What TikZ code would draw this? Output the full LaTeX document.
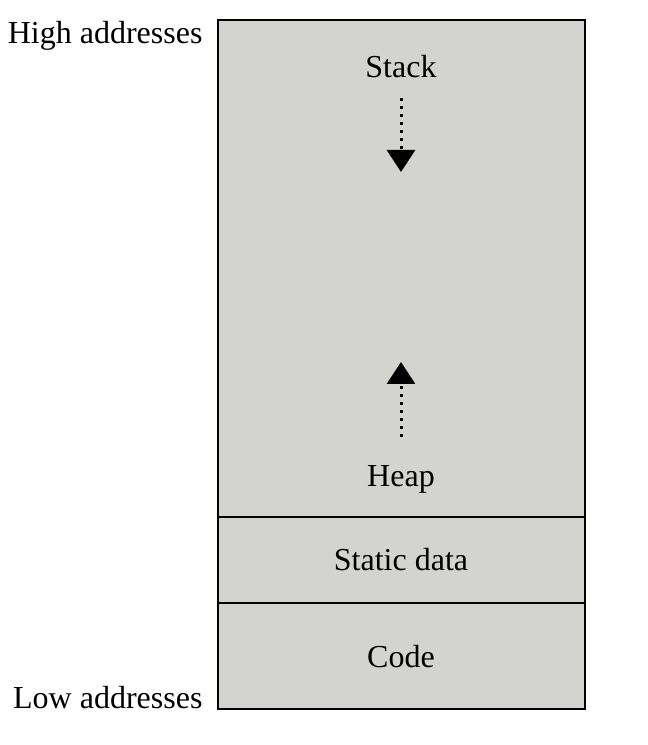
\documentclass[tikz,border=0pt]{standalone}
\usepackage{fontspec}
\setmainfont{Liberation Serif}
\usetikzlibrary{arrows.meta,positioning}
\definecolor{memgray}{HTML}{D3D3CF}
\tikzset{
  region/.style={draw, fill=memgray, line width=2pt, minimum width=367pt,
    outer sep=0pt, inner sep=0pt},
  growth/.style={line width=3pt, dash pattern=on 3pt off 5pt,
    -{Triangle[width=28pt,length=22pt]}},
}
\begin{document}
\begin{tikzpicture}[x=1pt,y=1pt,font=\fontsize{32}{37}\selectfont]
      \useasboundingbox (0,0) rectangle (648,745);
      \node[region, minimum height=106pt, anchor=south west] (code) at (218,36) {};
      \node[region, minimum height=86pt, above=0pt of code] (static) {};
      \node[region, minimum height=497pt, above=0pt of static] (dyn) {};
      \draw
        (401,88) node (codelbl){Code}
        (401,185) node (staticlbl){Static data}
        (401,266) node (heaplbl){Heap}
        (401,678) node (stacklbl){Stack};
      \node[anchor=east] (high) at (206,709) {High addresses};
      \node[anchor=east] (low) at (206,47) {Low addresses};
      \coordinate (stacktop) at (401,647);
      \coordinate (stackend) at (401,573);
      \coordinate (heapbot) at (401,308);
      \coordinate (heapend) at (401,383);
      \begin{scope}
        \draw[growth] (stacktop) to (stackend);
        \draw[growth] (heapbot) to (heapend);
      \end{scope}
    \end{tikzpicture}
\end{document}
